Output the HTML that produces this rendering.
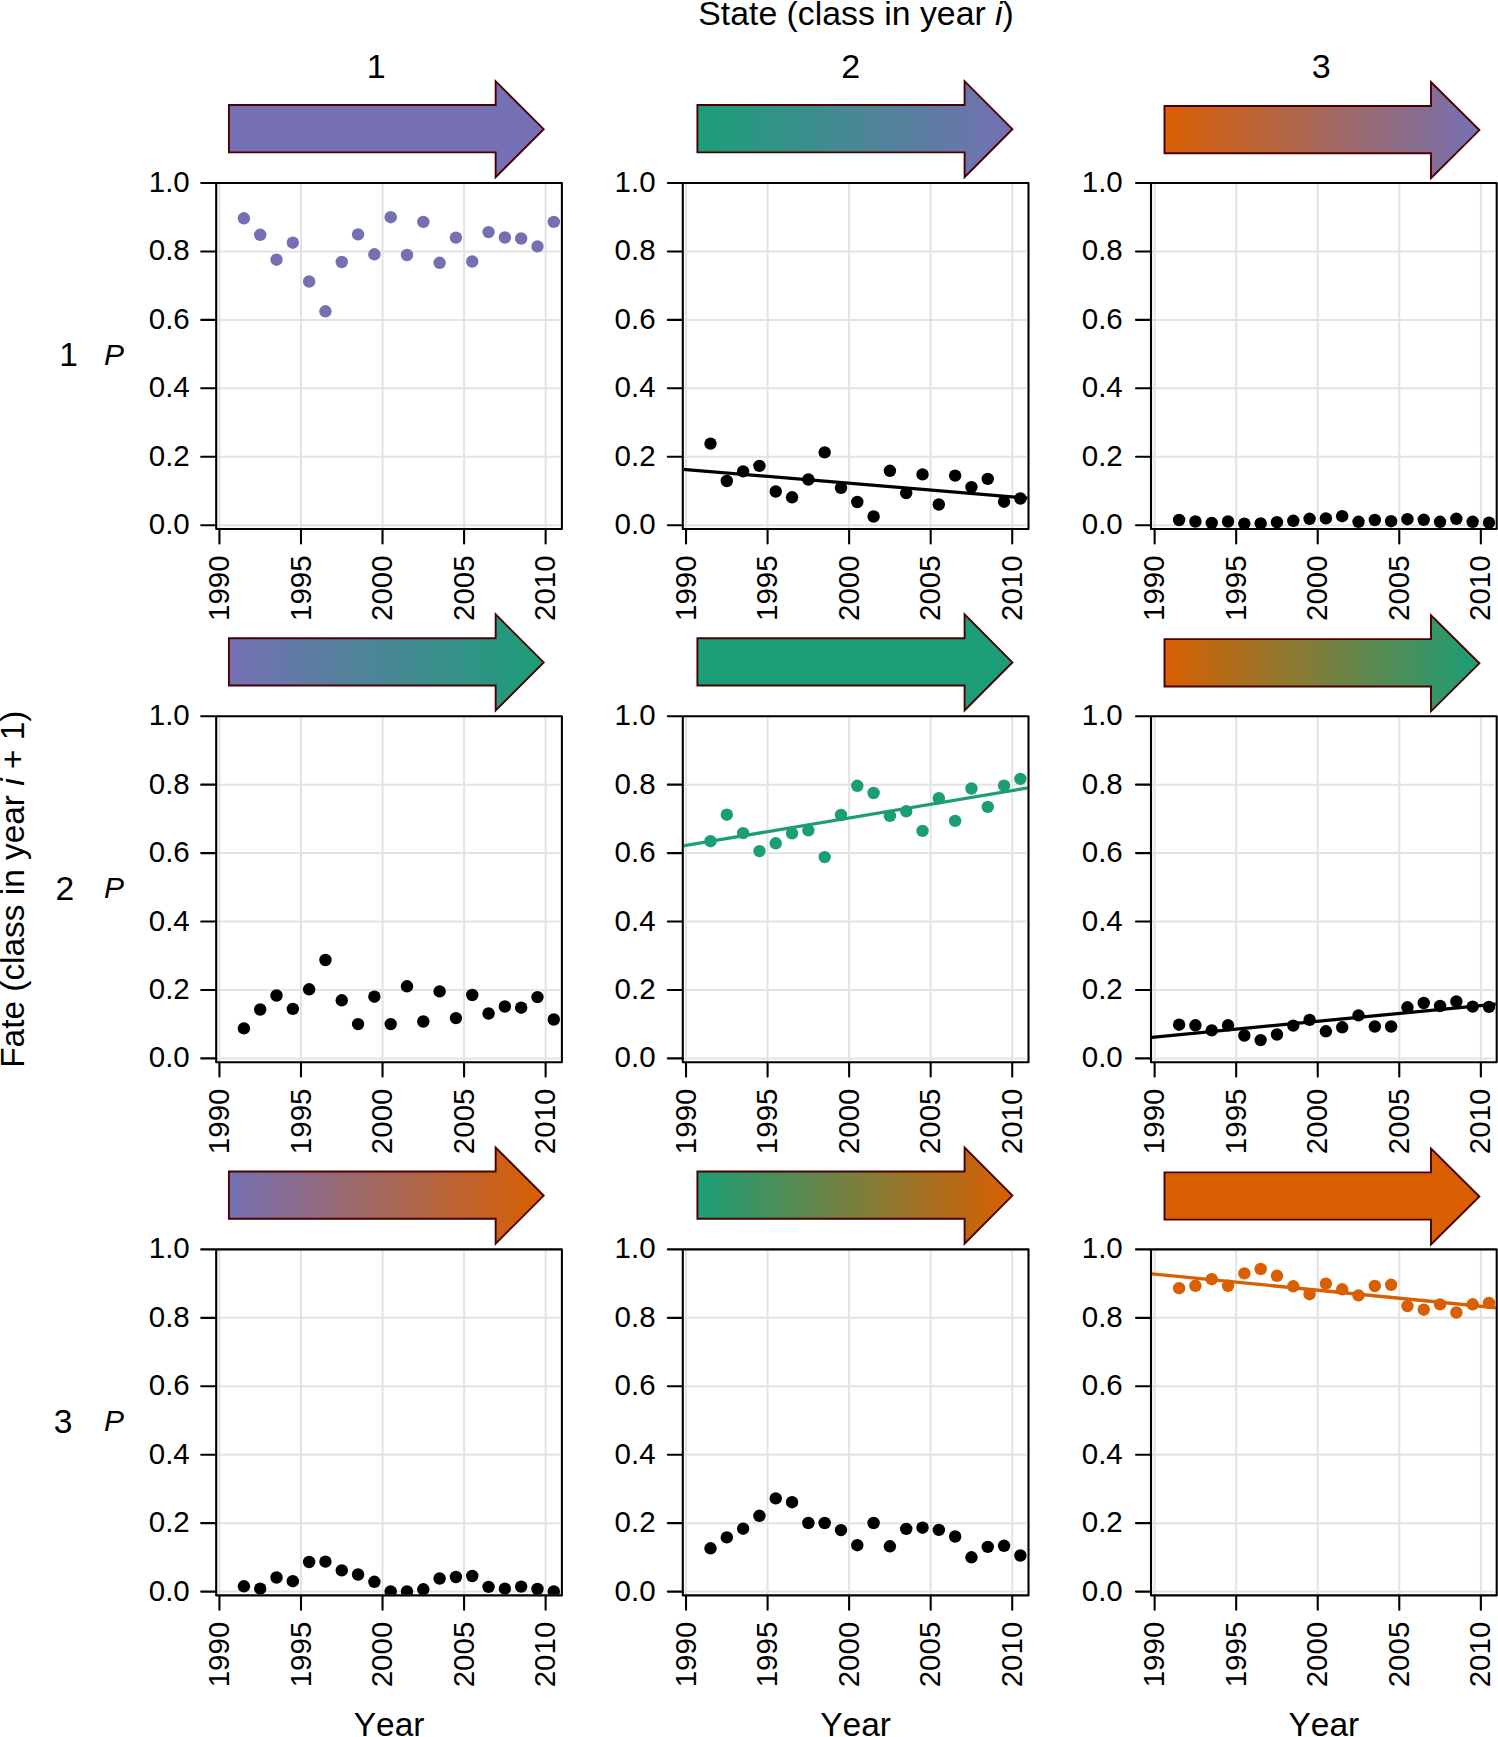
<!DOCTYPE html><html><head><meta charset="utf-8"><title>Transition probabilities</title>
<style>html,body{margin:0;padding:0;background:#fff;}svg{display:block;}text{font-family:"Liberation Sans",sans-serif;fill:#000;font-kerning:none;}</style></head><body>
<svg width="1498" height="1737" viewBox="0 0 1498 1737">
<rect width="1498" height="1737" fill="#fff"/>
<defs><clipPath id="c00"><rect x="217.2" y="184" width="343.7" height="344"/></clipPath><linearGradient id="g00" gradientUnits="userSpaceOnUse" x1="228.9" y1="0" x2="543.7" y2="0"><stop offset="0" stop-color="#7570b3"/><stop offset="1" stop-color="#7570b3"/></linearGradient><clipPath id="c01"><rect x="683.8" y="184" width="343.7" height="344"/></clipPath><linearGradient id="g01" gradientUnits="userSpaceOnUse" x1="697.4" y1="0" x2="1012.4" y2="0"><stop offset="0" stop-color="#1b9e77"/><stop offset="1" stop-color="#7570b3"/></linearGradient><clipPath id="c02"><rect x="1152" y="184" width="343.7" height="344"/></clipPath><linearGradient id="g02" gradientUnits="userSpaceOnUse" x1="1164.5" y1="0" x2="1479.4" y2="0"><stop offset="0" stop-color="#d95f02"/><stop offset="1" stop-color="#7570b3"/></linearGradient><clipPath id="c10"><rect x="217.2" y="717.2" width="343.7" height="344"/></clipPath><linearGradient id="g10" gradientUnits="userSpaceOnUse" x1="228.9" y1="0" x2="543.7" y2="0"><stop offset="0" stop-color="#7570b3"/><stop offset="1" stop-color="#1b9e77"/></linearGradient><clipPath id="c11"><rect x="683.8" y="717.2" width="343.7" height="344"/></clipPath><linearGradient id="g11" gradientUnits="userSpaceOnUse" x1="697.4" y1="0" x2="1012.4" y2="0"><stop offset="0" stop-color="#1b9e77"/><stop offset="1" stop-color="#1b9e77"/></linearGradient><clipPath id="c12"><rect x="1152" y="717.2" width="343.7" height="344"/></clipPath><linearGradient id="g12" gradientUnits="userSpaceOnUse" x1="1164.5" y1="0" x2="1479.4" y2="0"><stop offset="0" stop-color="#d95f02"/><stop offset="1" stop-color="#1b9e77"/></linearGradient><clipPath id="c20"><rect x="217.2" y="1250.4" width="343.7" height="344"/></clipPath><linearGradient id="g20" gradientUnits="userSpaceOnUse" x1="228.9" y1="0" x2="543.7" y2="0"><stop offset="0" stop-color="#7570b3"/><stop offset="1" stop-color="#d95f02"/></linearGradient><clipPath id="c21"><rect x="683.8" y="1250.4" width="343.7" height="344"/></clipPath><linearGradient id="g21" gradientUnits="userSpaceOnUse" x1="697.4" y1="0" x2="1012.4" y2="0"><stop offset="0" stop-color="#1b9e77"/><stop offset="1" stop-color="#d95f02"/></linearGradient><clipPath id="c22"><rect x="1152" y="1250.4" width="343.7" height="344"/></clipPath><linearGradient id="g22" gradientUnits="userSpaceOnUse" x1="1164.5" y1="0" x2="1479.4" y2="0"><stop offset="0" stop-color="#d95f02"/><stop offset="1" stop-color="#d95f02"/></linearGradient></defs>
<text x="698.3" y="24.6" font-size="33.8">State (class in year <tspan font-style="italic">i</tspan>)</text>
<text x="376.33" y="78" font-size="34" text-anchor="middle">1</text>
<text x="850.83" y="78" font-size="34" text-anchor="middle">2</text>
<text x="1321.23" y="78" font-size="34" text-anchor="middle">3</text>
<text transform="translate(24.3,889.2) rotate(-90)" font-size="33.4" text-anchor="middle">Fate (class in year <tspan font-style="italic">i</tspan> + 1)</text>
<text x="59.35" y="366.2" font-size="33.6">1</text>
<text x="104.1" y="365" font-size="30" font-style="italic">P</text>
<text x="55.5" y="899.5" font-size="33.6">2</text>
<text x="104.1" y="898.2" font-size="30" font-style="italic">P</text>
<text x="53.66" y="1432.9" font-size="33.6">3</text>
<text x="104.1" y="1431.4" font-size="30" font-style="italic">P</text>
<text x="389.05" y="1735.6" font-size="33.5" text-anchor="middle">Year</text>
<text x="855.65" y="1735.6" font-size="33.5" text-anchor="middle">Year</text>
<text x="1323.85" y="1735.6" font-size="33.5" text-anchor="middle">Year</text>
<path d="M219.44 183V529M300.99 183V529M382.53 183V529M464.08 183V529M545.63 183V529M216.2 525.2H559.7M216.2 456.76H559.7M216.2 388.32H559.7M216.2 319.88H559.7M216.2 251.44H559.7M216.2 183H559.7" stroke="#e3e3e3" stroke-width="2" fill="none"/>
<g fill="#7570b3"><g clip-path="url(#c00)"><circle cx="243.9" cy="218.3" r="6.2"/><circle cx="260.21" cy="234.8" r="6.2"/><circle cx="276.52" cy="259.7" r="6.2"/><circle cx="292.83" cy="242.7" r="6.2"/><circle cx="309.14" cy="281.5" r="6.2"/><circle cx="325.45" cy="311.3" r="6.2"/><circle cx="341.76" cy="262" r="6.2"/><circle cx="358.07" cy="234.4" r="6.2"/><circle cx="374.38" cy="254.3" r="6.2"/><circle cx="390.69" cy="217.2" r="6.2"/><circle cx="407" cy="255" r="6.2"/><circle cx="423.31" cy="221.9" r="6.2"/><circle cx="439.62" cy="262.8" r="6.2"/><circle cx="455.93" cy="237.6" r="6.2"/><circle cx="472.24" cy="261.5" r="6.2"/><circle cx="488.55" cy="232.1" r="6.2"/><circle cx="504.86" cy="237.5" r="6.2"/><circle cx="521.17" cy="238.5" r="6.2"/><circle cx="537.48" cy="246.4" r="6.2"/><circle cx="553.79" cy="221.9" r="6.2"/></g></g>
<path d="M216.2 183H561.9V529H216.2ZM201.2 525.2H216.2M201.2 456.76H216.2M201.2 388.32H216.2M201.2 319.88H216.2M201.2 251.44H216.2M201.2 183H216.2M219.44 529V543.4M300.99 529V543.4M382.53 529V543.4M464.08 529V543.4M545.63 529V543.4" stroke="#000" stroke-width="2.1" fill="none" stroke-linejoin="round" stroke-linecap="round"/>
<text x="189.74" y="534.2" font-size="29.5" text-anchor="end">0.0</text>
<text x="189.74" y="465.76" font-size="29.5" text-anchor="end">0.2</text>
<text x="189.74" y="397.32" font-size="29.5" text-anchor="end">0.4</text>
<text x="189.74" y="328.88" font-size="29.5" text-anchor="end">0.6</text>
<text x="189.74" y="260.44" font-size="29.5" text-anchor="end">0.8</text>
<text x="189.74" y="192" font-size="29.5" text-anchor="end">1.0</text>
<text transform="translate(229.03,555.3) rotate(-90)" font-size="29.5" text-anchor="end">1990</text>
<text transform="translate(310.59,555.3) rotate(-90)" font-size="29.5" text-anchor="end">1995</text>
<text transform="translate(392.13,555.3) rotate(-90)" font-size="29.5" text-anchor="end">2000</text>
<text transform="translate(473.69,555.3) rotate(-90)" font-size="29.5" text-anchor="end">2005</text>
<text transform="translate(555.24,555.3) rotate(-90)" font-size="29.5" text-anchor="end">2010</text>
<path d="M228.9 105.05L495.65 105.05L495.65 81.2L543.7 129.2L495.65 177.2L495.65 152.35L228.9 152.35Z" fill="url(#g00)" stroke="#480000" stroke-width="1.9" stroke-linejoin="miter"/>
<path d="M686.03 183V529M767.58 183V529M849.13 183V529M930.68 183V529M1012.23 183V529M682.8 525.2H1026.3M682.8 456.76H1026.3M682.8 388.32H1026.3M682.8 319.88H1026.3M682.8 251.44H1026.3M682.8 183H1026.3" stroke="#e3e3e3" stroke-width="2" fill="none"/>
<g fill="#000"><g clip-path="url(#c01)"><circle cx="710.5" cy="443.6" r="6.2"/><circle cx="726.81" cy="481" r="6.2"/><circle cx="743.12" cy="471.4" r="6.2"/><circle cx="759.43" cy="465.9" r="6.2"/><circle cx="775.74" cy="491.5" r="6.2"/><circle cx="792.05" cy="497.3" r="6.2"/><circle cx="808.36" cy="479.5" r="6.2"/><circle cx="824.67" cy="452.4" r="6.2"/><circle cx="840.98" cy="487.9" r="6.2"/><circle cx="857.29" cy="502" r="6.2"/><circle cx="873.6" cy="516.5" r="6.2"/><circle cx="889.91" cy="470.8" r="6.2"/><circle cx="906.22" cy="493.1" r="6.2"/><circle cx="922.53" cy="474.4" r="6.2"/><circle cx="938.84" cy="504.5" r="6.2"/><circle cx="955.15" cy="475.6" r="6.2"/><circle cx="971.46" cy="487.1" r="6.2"/><circle cx="987.77" cy="478.9" r="6.2"/><circle cx="1004.08" cy="501.7" r="6.2"/><circle cx="1020.39" cy="498.5" r="6.2"/><path d="M682.8 469.3L1028.5 498.2" stroke="#000" stroke-width="3.3" fill="none"/></g></g>
<path d="M682.8 183H1028.5V529H682.8ZM667.8 525.2H682.8M667.8 456.76H682.8M667.8 388.32H682.8M667.8 319.88H682.8M667.8 251.44H682.8M667.8 183H682.8M686.03 529V543.4M767.58 529V543.4M849.13 529V543.4M930.68 529V543.4M1012.23 529V543.4" stroke="#000" stroke-width="2.1" fill="none" stroke-linejoin="round" stroke-linecap="round"/>
<text x="655.64" y="534.2" font-size="29.5" text-anchor="end">0.0</text>
<text x="655.64" y="465.76" font-size="29.5" text-anchor="end">0.2</text>
<text x="655.64" y="397.32" font-size="29.5" text-anchor="end">0.4</text>
<text x="655.64" y="328.88" font-size="29.5" text-anchor="end">0.6</text>
<text x="655.64" y="260.44" font-size="29.5" text-anchor="end">0.8</text>
<text x="655.64" y="192" font-size="29.5" text-anchor="end">1.0</text>
<text transform="translate(695.63,555.3) rotate(-90)" font-size="29.5" text-anchor="end">1990</text>
<text transform="translate(777.18,555.3) rotate(-90)" font-size="29.5" text-anchor="end">1995</text>
<text transform="translate(858.74,555.3) rotate(-90)" font-size="29.5" text-anchor="end">2000</text>
<text transform="translate(940.28,555.3) rotate(-90)" font-size="29.5" text-anchor="end">2005</text>
<text transform="translate(1021.83,555.3) rotate(-90)" font-size="29.5" text-anchor="end">2010</text>
<path d="M697.4 105.05L964.6 105.05L964.6 81.2L1012.4 129.2L964.6 177.2L964.6 152.35L697.4 152.35Z" fill="url(#g01)" stroke="#480000" stroke-width="1.9" stroke-linejoin="miter"/>
<path d="M1154.63 183V529M1236.18 183V529M1317.73 183V529M1399.28 183V529M1480.84 183V529M1151 525.2H1494.5M1151 456.76H1494.5M1151 388.32H1494.5M1151 319.88H1494.5M1151 251.44H1494.5M1151 183H1494.5" stroke="#e3e3e3" stroke-width="2" fill="none"/>
<g fill="#000"><g clip-path="url(#c02)"><circle cx="1179.1" cy="520" r="6.2"/><circle cx="1195.41" cy="521.5" r="6.2"/><circle cx="1211.72" cy="523" r="6.2"/><circle cx="1228.03" cy="521.5" r="6.2"/><circle cx="1244.34" cy="523.6" r="6.2"/><circle cx="1260.65" cy="523.4" r="6.2"/><circle cx="1276.96" cy="522.2" r="6.2"/><circle cx="1293.27" cy="520.8" r="6.2"/><circle cx="1309.58" cy="518.8" r="6.2"/><circle cx="1325.89" cy="518.4" r="6.2"/><circle cx="1342.2" cy="516.2" r="6.2"/><circle cx="1358.51" cy="521.8" r="6.2"/><circle cx="1374.82" cy="520" r="6.2"/><circle cx="1391.13" cy="521.2" r="6.2"/><circle cx="1407.44" cy="519.2" r="6.2"/><circle cx="1423.75" cy="519.8" r="6.2"/><circle cx="1440.06" cy="521.8" r="6.2"/><circle cx="1456.37" cy="518.8" r="6.2"/><circle cx="1472.68" cy="521.8" r="6.2"/><circle cx="1488.99" cy="522.7" r="6.2"/></g></g>
<path d="M1151 183H1496.7V529H1151ZM1136 525.2H1151M1136 456.76H1151M1136 388.32H1151M1136 319.88H1151M1136 251.44H1151M1136 183H1151M1154.63 529V543.4M1236.18 529V543.4M1317.73 529V543.4M1399.28 529V543.4M1480.84 529V543.4" stroke="#000" stroke-width="2.1" fill="none" stroke-linejoin="round" stroke-linecap="round"/>
<text x="1122.74" y="534.2" font-size="29.5" text-anchor="end">0.0</text>
<text x="1122.74" y="465.76" font-size="29.5" text-anchor="end">0.2</text>
<text x="1122.74" y="397.32" font-size="29.5" text-anchor="end">0.4</text>
<text x="1122.74" y="328.88" font-size="29.5" text-anchor="end">0.6</text>
<text x="1122.74" y="260.44" font-size="29.5" text-anchor="end">0.8</text>
<text x="1122.74" y="192" font-size="29.5" text-anchor="end">1.0</text>
<text transform="translate(1164.23,555.3) rotate(-90)" font-size="29.5" text-anchor="end">1990</text>
<text transform="translate(1245.78,555.3) rotate(-90)" font-size="29.5" text-anchor="end">1995</text>
<text transform="translate(1327.33,555.3) rotate(-90)" font-size="29.5" text-anchor="end">2000</text>
<text transform="translate(1408.88,555.3) rotate(-90)" font-size="29.5" text-anchor="end">2005</text>
<text transform="translate(1490.43,555.3) rotate(-90)" font-size="29.5" text-anchor="end">2010</text>
<path d="M1164.5 105.95L1431 105.95L1431 82.1L1479.4 130.1L1431 178.1L1431 153.25L1164.5 153.25Z" fill="url(#g02)" stroke="#480000" stroke-width="1.9" stroke-linejoin="miter"/>
<path d="M219.44 716.2V1062.2M300.99 716.2V1062.2M382.53 716.2V1062.2M464.08 716.2V1062.2M545.63 716.2V1062.2M216.2 1058.4H559.7M216.2 989.96H559.7M216.2 921.52H559.7M216.2 853.08H559.7M216.2 784.64H559.7M216.2 716.2H559.7" stroke="#e3e3e3" stroke-width="2" fill="none"/>
<g fill="#000"><g clip-path="url(#c10)"><circle cx="243.9" cy="1028.4" r="6.2"/><circle cx="260.21" cy="1009.5" r="6.2"/><circle cx="276.52" cy="995.5" r="6.2"/><circle cx="292.83" cy="1008.9" r="6.2"/><circle cx="309.14" cy="989.3" r="6.2"/><circle cx="325.45" cy="960" r="6.2"/><circle cx="341.76" cy="1000.3" r="6.2"/><circle cx="358.07" cy="1024.1" r="6.2"/><circle cx="374.38" cy="996.7" r="6.2"/><circle cx="390.69" cy="1024.1" r="6.2"/><circle cx="407" cy="986.3" r="6.2"/><circle cx="423.31" cy="1021.5" r="6.2"/><circle cx="439.62" cy="991.4" r="6.2"/><circle cx="455.93" cy="1018.1" r="6.2"/><circle cx="472.24" cy="995" r="6.2"/><circle cx="488.55" cy="1013.5" r="6.2"/><circle cx="504.86" cy="1006.5" r="6.2"/><circle cx="521.17" cy="1007.7" r="6.2"/><circle cx="537.48" cy="997.1" r="6.2"/><circle cx="553.79" cy="1019.5" r="6.2"/></g></g>
<path d="M216.2 716.2H561.9V1062.2H216.2ZM201.2 1058.4H216.2M201.2 989.96H216.2M201.2 921.52H216.2M201.2 853.08H216.2M201.2 784.64H216.2M201.2 716.2H216.2M219.44 1062.2V1076.6M300.99 1062.2V1076.6M382.53 1062.2V1076.6M464.08 1062.2V1076.6M545.63 1062.2V1076.6" stroke="#000" stroke-width="2.1" fill="none" stroke-linejoin="round" stroke-linecap="round"/>
<text x="189.74" y="1067.4" font-size="29.5" text-anchor="end">0.0</text>
<text x="189.74" y="998.96" font-size="29.5" text-anchor="end">0.2</text>
<text x="189.74" y="930.52" font-size="29.5" text-anchor="end">0.4</text>
<text x="189.74" y="862.08" font-size="29.5" text-anchor="end">0.6</text>
<text x="189.74" y="793.64" font-size="29.5" text-anchor="end">0.8</text>
<text x="189.74" y="725.2" font-size="29.5" text-anchor="end">1.0</text>
<text transform="translate(229.03,1088.5) rotate(-90)" font-size="29.5" text-anchor="end">1990</text>
<text transform="translate(310.59,1088.5) rotate(-90)" font-size="29.5" text-anchor="end">1995</text>
<text transform="translate(392.13,1088.5) rotate(-90)" font-size="29.5" text-anchor="end">2000</text>
<text transform="translate(473.69,1088.5) rotate(-90)" font-size="29.5" text-anchor="end">2005</text>
<text transform="translate(555.24,1088.5) rotate(-90)" font-size="29.5" text-anchor="end">2010</text>
<path d="M228.9 638.25L495.65 638.25L495.65 614.4L543.7 662.4L495.65 710.4L495.65 685.55L228.9 685.55Z" fill="url(#g10)" stroke="#480000" stroke-width="1.9" stroke-linejoin="miter"/>
<path d="M686.03 716.2V1062.2M767.58 716.2V1062.2M849.13 716.2V1062.2M930.68 716.2V1062.2M1012.23 716.2V1062.2M682.8 1058.4H1026.3M682.8 989.96H1026.3M682.8 921.52H1026.3M682.8 853.08H1026.3M682.8 784.64H1026.3M682.8 716.2H1026.3" stroke="#e3e3e3" stroke-width="2" fill="none"/>
<g fill="#1b9e77"><g clip-path="url(#c11)"><circle cx="710.5" cy="841.2" r="6.2"/><circle cx="726.81" cy="814.7" r="6.2"/><circle cx="743.12" cy="833.1" r="6.2"/><circle cx="759.43" cy="851.1" r="6.2"/><circle cx="775.74" cy="843.3" r="6.2"/><circle cx="792.05" cy="833.3" r="6.2"/><circle cx="808.36" cy="830.3" r="6.2"/><circle cx="824.67" cy="857.1" r="6.2"/><circle cx="840.98" cy="815" r="6.2"/><circle cx="857.29" cy="785.8" r="6.2"/><circle cx="873.6" cy="793" r="6.2"/><circle cx="889.91" cy="815.9" r="6.2"/><circle cx="906.22" cy="811.3" r="6.2"/><circle cx="922.53" cy="830.9" r="6.2"/><circle cx="938.84" cy="798.2" r="6.2"/><circle cx="955.15" cy="820.9" r="6.2"/><circle cx="971.46" cy="788.5" r="6.2"/><circle cx="987.77" cy="806.9" r="6.2"/><circle cx="1004.08" cy="785.6" r="6.2"/><circle cx="1020.39" cy="778.9" r="6.2"/><path d="M682.8 845.9L1028.5 787.8" stroke="#1b9e77" stroke-width="3.3" fill="none"/></g></g>
<path d="M682.8 716.2H1028.5V1062.2H682.8ZM667.8 1058.4H682.8M667.8 989.96H682.8M667.8 921.52H682.8M667.8 853.08H682.8M667.8 784.64H682.8M667.8 716.2H682.8M686.03 1062.2V1076.6M767.58 1062.2V1076.6M849.13 1062.2V1076.6M930.68 1062.2V1076.6M1012.23 1062.2V1076.6" stroke="#000" stroke-width="2.1" fill="none" stroke-linejoin="round" stroke-linecap="round"/>
<text x="655.64" y="1067.4" font-size="29.5" text-anchor="end">0.0</text>
<text x="655.64" y="998.96" font-size="29.5" text-anchor="end">0.2</text>
<text x="655.64" y="930.52" font-size="29.5" text-anchor="end">0.4</text>
<text x="655.64" y="862.08" font-size="29.5" text-anchor="end">0.6</text>
<text x="655.64" y="793.64" font-size="29.5" text-anchor="end">0.8</text>
<text x="655.64" y="725.2" font-size="29.5" text-anchor="end">1.0</text>
<text transform="translate(695.63,1088.5) rotate(-90)" font-size="29.5" text-anchor="end">1990</text>
<text transform="translate(777.18,1088.5) rotate(-90)" font-size="29.5" text-anchor="end">1995</text>
<text transform="translate(858.74,1088.5) rotate(-90)" font-size="29.5" text-anchor="end">2000</text>
<text transform="translate(940.28,1088.5) rotate(-90)" font-size="29.5" text-anchor="end">2005</text>
<text transform="translate(1021.83,1088.5) rotate(-90)" font-size="29.5" text-anchor="end">2010</text>
<path d="M697.4 638.25L964.6 638.25L964.6 614.4L1012.4 662.4L964.6 710.4L964.6 685.55L697.4 685.55Z" fill="url(#g11)" stroke="#480000" stroke-width="1.9" stroke-linejoin="miter"/>
<path d="M1154.63 716.2V1062.2M1236.18 716.2V1062.2M1317.73 716.2V1062.2M1399.28 716.2V1062.2M1480.84 716.2V1062.2M1151 1058.4H1494.5M1151 989.96H1494.5M1151 921.52H1494.5M1151 853.08H1494.5M1151 784.64H1494.5M1151 716.2H1494.5" stroke="#e3e3e3" stroke-width="2" fill="none"/>
<g fill="#000"><g clip-path="url(#c12)"><circle cx="1179.1" cy="1024.7" r="6.2"/><circle cx="1195.41" cy="1025.3" r="6.2"/><circle cx="1211.72" cy="1030.4" r="6.2"/><circle cx="1228.03" cy="1025.3" r="6.2"/><circle cx="1244.34" cy="1035.5" r="6.2"/><circle cx="1260.65" cy="1040.1" r="6.2"/><circle cx="1276.96" cy="1034.5" r="6.2"/><circle cx="1293.27" cy="1025.6" r="6.2"/><circle cx="1309.58" cy="1019.9" r="6.2"/><circle cx="1325.89" cy="1031.3" r="6.2"/><circle cx="1342.2" cy="1027.3" r="6.2"/><circle cx="1358.51" cy="1015.4" r="6.2"/><circle cx="1374.82" cy="1026.5" r="6.2"/><circle cx="1391.13" cy="1026.5" r="6.2"/><circle cx="1407.44" cy="1007.3" r="6.2"/><circle cx="1423.75" cy="1003" r="6.2"/><circle cx="1440.06" cy="1006" r="6.2"/><circle cx="1456.37" cy="1001.5" r="6.2"/><circle cx="1472.68" cy="1006.6" r="6.2"/><circle cx="1488.99" cy="1006.9" r="6.2"/><path d="M1151 1037.4L1496.7 1004" stroke="#000" stroke-width="3.3" fill="none"/></g></g>
<path d="M1151 716.2H1496.7V1062.2H1151ZM1136 1058.4H1151M1136 989.96H1151M1136 921.52H1151M1136 853.08H1151M1136 784.64H1151M1136 716.2H1151M1154.63 1062.2V1076.6M1236.18 1062.2V1076.6M1317.73 1062.2V1076.6M1399.28 1062.2V1076.6M1480.84 1062.2V1076.6" stroke="#000" stroke-width="2.1" fill="none" stroke-linejoin="round" stroke-linecap="round"/>
<text x="1122.74" y="1067.4" font-size="29.5" text-anchor="end">0.0</text>
<text x="1122.74" y="998.96" font-size="29.5" text-anchor="end">0.2</text>
<text x="1122.74" y="930.52" font-size="29.5" text-anchor="end">0.4</text>
<text x="1122.74" y="862.08" font-size="29.5" text-anchor="end">0.6</text>
<text x="1122.74" y="793.64" font-size="29.5" text-anchor="end">0.8</text>
<text x="1122.74" y="725.2" font-size="29.5" text-anchor="end">1.0</text>
<text transform="translate(1164.23,1088.5) rotate(-90)" font-size="29.5" text-anchor="end">1990</text>
<text transform="translate(1245.78,1088.5) rotate(-90)" font-size="29.5" text-anchor="end">1995</text>
<text transform="translate(1327.33,1088.5) rotate(-90)" font-size="29.5" text-anchor="end">2000</text>
<text transform="translate(1408.88,1088.5) rotate(-90)" font-size="29.5" text-anchor="end">2005</text>
<text transform="translate(1490.43,1088.5) rotate(-90)" font-size="29.5" text-anchor="end">2010</text>
<path d="M1164.5 639.15L1431 639.15L1431 615.3L1479.4 663.3L1431 711.3L1431 686.45L1164.5 686.45Z" fill="url(#g12)" stroke="#480000" stroke-width="1.9" stroke-linejoin="miter"/>
<path d="M219.44 1249.4V1595.4M300.99 1249.4V1595.4M382.53 1249.4V1595.4M464.08 1249.4V1595.4M545.63 1249.4V1595.4M216.2 1591.6H559.7M216.2 1523.16H559.7M216.2 1454.72H559.7M216.2 1386.28H559.7M216.2 1317.84H559.7M216.2 1249.4H559.7" stroke="#e3e3e3" stroke-width="2" fill="none"/>
<g fill="#000"><g clip-path="url(#c20)"><circle cx="243.9" cy="1586.3" r="6.2"/><circle cx="260.21" cy="1588.7" r="6.2"/><circle cx="276.52" cy="1577.5" r="6.2"/><circle cx="292.83" cy="1581.2" r="6.2"/><circle cx="309.14" cy="1562" r="6.2"/><circle cx="325.45" cy="1561.6" r="6.2"/><circle cx="341.76" cy="1570.4" r="6.2"/><circle cx="358.07" cy="1574.5" r="6.2"/><circle cx="374.38" cy="1581.8" r="6.2"/><circle cx="390.69" cy="1591.4" r="6.2"/><circle cx="407" cy="1591.4" r="6.2"/><circle cx="423.31" cy="1589.3" r="6.2"/><circle cx="439.62" cy="1578.5" r="6.2"/><circle cx="455.93" cy="1577" r="6.2"/><circle cx="472.24" cy="1576" r="6.2"/><circle cx="488.55" cy="1586.9" r="6.2"/><circle cx="504.86" cy="1588.7" r="6.2"/><circle cx="521.17" cy="1586.6" r="6.2"/><circle cx="537.48" cy="1589" r="6.2"/><circle cx="553.79" cy="1591.4" r="6.2"/></g></g>
<path d="M216.2 1249.4H561.9V1595.4H216.2ZM201.2 1591.6H216.2M201.2 1523.16H216.2M201.2 1454.72H216.2M201.2 1386.28H216.2M201.2 1317.84H216.2M201.2 1249.4H216.2M219.44 1595.4V1609.8M300.99 1595.4V1609.8M382.53 1595.4V1609.8M464.08 1595.4V1609.8M545.63 1595.4V1609.8" stroke="#000" stroke-width="2.1" fill="none" stroke-linejoin="round" stroke-linecap="round"/>
<text x="189.74" y="1600.6" font-size="29.5" text-anchor="end">0.0</text>
<text x="189.74" y="1532.16" font-size="29.5" text-anchor="end">0.2</text>
<text x="189.74" y="1463.72" font-size="29.5" text-anchor="end">0.4</text>
<text x="189.74" y="1395.28" font-size="29.5" text-anchor="end">0.6</text>
<text x="189.74" y="1326.84" font-size="29.5" text-anchor="end">0.8</text>
<text x="189.74" y="1258.4" font-size="29.5" text-anchor="end">1.0</text>
<text transform="translate(229.03,1621.7) rotate(-90)" font-size="29.5" text-anchor="end">1990</text>
<text transform="translate(310.59,1621.7) rotate(-90)" font-size="29.5" text-anchor="end">1995</text>
<text transform="translate(392.13,1621.7) rotate(-90)" font-size="29.5" text-anchor="end">2000</text>
<text transform="translate(473.69,1621.7) rotate(-90)" font-size="29.5" text-anchor="end">2005</text>
<text transform="translate(555.24,1621.7) rotate(-90)" font-size="29.5" text-anchor="end">2010</text>
<path d="M228.9 1171.45L495.65 1171.45L495.65 1147.6L543.7 1195.6L495.65 1243.6L495.65 1218.75L228.9 1218.75Z" fill="url(#g20)" stroke="#480000" stroke-width="1.9" stroke-linejoin="miter"/>
<path d="M686.03 1249.4V1595.4M767.58 1249.4V1595.4M849.13 1249.4V1595.4M930.68 1249.4V1595.4M1012.23 1249.4V1595.4M682.8 1591.6H1026.3M682.8 1523.16H1026.3M682.8 1454.72H1026.3M682.8 1386.28H1026.3M682.8 1317.84H1026.3M682.8 1249.4H1026.3" stroke="#e3e3e3" stroke-width="2" fill="none"/>
<g fill="#000"><g clip-path="url(#c21)"><circle cx="710.5" cy="1548.3" r="6.2"/><circle cx="726.81" cy="1537.4" r="6.2"/><circle cx="743.12" cy="1528.7" r="6.2"/><circle cx="759.43" cy="1515.8" r="6.2"/><circle cx="775.74" cy="1498.4" r="6.2"/><circle cx="792.05" cy="1502.2" r="6.2"/><circle cx="808.36" cy="1523" r="6.2"/><circle cx="824.67" cy="1523" r="6.2"/><circle cx="840.98" cy="1530.1" r="6.2"/><circle cx="857.29" cy="1545.2" r="6.2"/><circle cx="873.6" cy="1523" r="6.2"/><circle cx="889.91" cy="1546.3" r="6.2"/><circle cx="906.22" cy="1528.9" r="6.2"/><circle cx="922.53" cy="1527.7" r="6.2"/><circle cx="938.84" cy="1529.9" r="6.2"/><circle cx="955.15" cy="1536.5" r="6.2"/><circle cx="971.46" cy="1557.3" r="6.2"/><circle cx="987.77" cy="1546.9" r="6.2"/><circle cx="1004.08" cy="1545.8" r="6.2"/><circle cx="1020.39" cy="1555.5" r="6.2"/></g></g>
<path d="M682.8 1249.4H1028.5V1595.4H682.8ZM667.8 1591.6H682.8M667.8 1523.16H682.8M667.8 1454.72H682.8M667.8 1386.28H682.8M667.8 1317.84H682.8M667.8 1249.4H682.8M686.03 1595.4V1609.8M767.58 1595.4V1609.8M849.13 1595.4V1609.8M930.68 1595.4V1609.8M1012.23 1595.4V1609.8" stroke="#000" stroke-width="2.1" fill="none" stroke-linejoin="round" stroke-linecap="round"/>
<text x="655.64" y="1600.6" font-size="29.5" text-anchor="end">0.0</text>
<text x="655.64" y="1532.16" font-size="29.5" text-anchor="end">0.2</text>
<text x="655.64" y="1463.72" font-size="29.5" text-anchor="end">0.4</text>
<text x="655.64" y="1395.28" font-size="29.5" text-anchor="end">0.6</text>
<text x="655.64" y="1326.84" font-size="29.5" text-anchor="end">0.8</text>
<text x="655.64" y="1258.4" font-size="29.5" text-anchor="end">1.0</text>
<text transform="translate(695.63,1621.7) rotate(-90)" font-size="29.5" text-anchor="end">1990</text>
<text transform="translate(777.18,1621.7) rotate(-90)" font-size="29.5" text-anchor="end">1995</text>
<text transform="translate(858.74,1621.7) rotate(-90)" font-size="29.5" text-anchor="end">2000</text>
<text transform="translate(940.28,1621.7) rotate(-90)" font-size="29.5" text-anchor="end">2005</text>
<text transform="translate(1021.83,1621.7) rotate(-90)" font-size="29.5" text-anchor="end">2010</text>
<path d="M697.4 1171.45L964.6 1171.45L964.6 1147.6L1012.4 1195.6L964.6 1243.6L964.6 1218.75L697.4 1218.75Z" fill="url(#g21)" stroke="#480000" stroke-width="1.9" stroke-linejoin="miter"/>
<path d="M1154.63 1249.4V1595.4M1236.18 1249.4V1595.4M1317.73 1249.4V1595.4M1399.28 1249.4V1595.4M1480.84 1249.4V1595.4M1151 1591.6H1494.5M1151 1523.16H1494.5M1151 1454.72H1494.5M1151 1386.28H1494.5M1151 1317.84H1494.5M1151 1249.4H1494.5" stroke="#e3e3e3" stroke-width="2" fill="none"/>
<g fill="#d95f02"><g clip-path="url(#c22)"><circle cx="1179.1" cy="1288.2" r="6.2"/><circle cx="1195.41" cy="1285.8" r="6.2"/><circle cx="1211.72" cy="1279.2" r="6.2"/><circle cx="1228.03" cy="1285.8" r="6.2"/><circle cx="1244.34" cy="1273.4" r="6.2"/><circle cx="1260.65" cy="1269" r="6.2"/><circle cx="1276.96" cy="1275.8" r="6.2"/><circle cx="1293.27" cy="1286.3" r="6.2"/><circle cx="1309.58" cy="1294.2" r="6.2"/><circle cx="1325.89" cy="1283.6" r="6.2"/><circle cx="1342.2" cy="1289.3" r="6.2"/><circle cx="1358.51" cy="1295.4" r="6.2"/><circle cx="1374.82" cy="1286" r="6.2"/><circle cx="1391.13" cy="1284.8" r="6.2"/><circle cx="1407.44" cy="1306.1" r="6.2"/><circle cx="1423.75" cy="1309.7" r="6.2"/><circle cx="1440.06" cy="1304.4" r="6.2"/><circle cx="1456.37" cy="1312.5" r="6.2"/><circle cx="1472.68" cy="1304.3" r="6.2"/><circle cx="1488.99" cy="1302.9" r="6.2"/><path d="M1151 1273.8L1496.7 1307.8" stroke="#d95f02" stroke-width="3.3" fill="none"/></g></g>
<path d="M1151 1249.4H1496.7V1595.4H1151ZM1136 1591.6H1151M1136 1523.16H1151M1136 1454.72H1151M1136 1386.28H1151M1136 1317.84H1151M1136 1249.4H1151M1154.63 1595.4V1609.8M1236.18 1595.4V1609.8M1317.73 1595.4V1609.8M1399.28 1595.4V1609.8M1480.84 1595.4V1609.8" stroke="#000" stroke-width="2.1" fill="none" stroke-linejoin="round" stroke-linecap="round"/>
<text x="1122.74" y="1600.6" font-size="29.5" text-anchor="end">0.0</text>
<text x="1122.74" y="1532.16" font-size="29.5" text-anchor="end">0.2</text>
<text x="1122.74" y="1463.72" font-size="29.5" text-anchor="end">0.4</text>
<text x="1122.74" y="1395.28" font-size="29.5" text-anchor="end">0.6</text>
<text x="1122.74" y="1326.84" font-size="29.5" text-anchor="end">0.8</text>
<text x="1122.74" y="1258.4" font-size="29.5" text-anchor="end">1.0</text>
<text transform="translate(1164.23,1621.7) rotate(-90)" font-size="29.5" text-anchor="end">1990</text>
<text transform="translate(1245.78,1621.7) rotate(-90)" font-size="29.5" text-anchor="end">1995</text>
<text transform="translate(1327.33,1621.7) rotate(-90)" font-size="29.5" text-anchor="end">2000</text>
<text transform="translate(1408.88,1621.7) rotate(-90)" font-size="29.5" text-anchor="end">2005</text>
<text transform="translate(1490.43,1621.7) rotate(-90)" font-size="29.5" text-anchor="end">2010</text>
<path d="M1164.5 1172.35L1431 1172.35L1431 1148.5L1479.4 1196.5L1431 1244.5L1431 1219.65L1164.5 1219.65Z" fill="url(#g22)" stroke="#480000" stroke-width="1.9" stroke-linejoin="miter"/>
</svg></body></html>
